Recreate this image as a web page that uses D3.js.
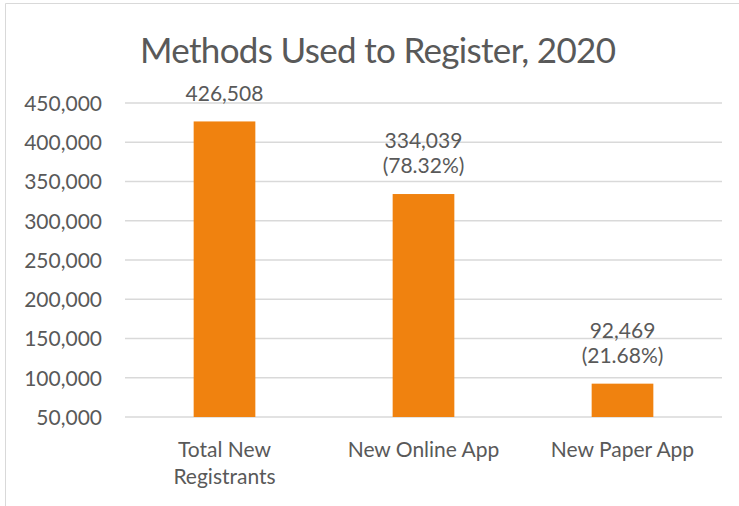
<!DOCTYPE html>
<html>
<head>
  <script src="https://d3js.org/d3.v7.min.js"></script>
  <style>
    body { margin: 0; background: #fff; }
    text { font-family: Lato, "Open Sans", sans-serif; fill: #595959; }
  </style>
</head>
<body>
<script type="text/javascript">

  var categories = [["Total New", "Registrants"], ["New Online App"], ["New Paper App"]];
  var values = [426508, 334039, 92469];
  var shares = [null, "78.32%", "21.68%"];
  var yTicks = [50000, 100000, 150000, 200000, 250000, 300000, 350000, 400000, 450000];

  var config = {
    canvas: {width: 739, height: 506},
    plot: {left: 125, right: 722, top: 103, bottom: 417},
    fontSize: 21
  };

  var svg = d3.select("body").append("svg")
    .attr("width", config.canvas.width)
    .attr("height", config.canvas.height);

  // chart frame (cropped at right and bottom)
  svg.append("path")
    .attr("d", "M5.5,506 L5.5,3.5 L739,3.5")
    .attr("fill", "none")
    .attr("stroke", "#d9d9d9")
    .attr("stroke-width", 1);

  svg.append("text")
    .attr("x", 378).attr("y", 63)
    .attr("text-anchor", "middle")
    .attr("textLength", 476)
    .attr("lengthAdjust", "spacing")
    .style("font-size", "35px")
    .text("Methods Used to Register, 2020");

  var x = d3.scaleBand()
    .domain(d3.range(categories.length))
    .range([config.plot.left, config.plot.right])
    .paddingInner(0.69)
    .paddingOuter(0.345);

  var y = d3.scaleLinear()
    .domain([50000, 450000])
    .range([config.plot.bottom, config.plot.top]);

  // gridlines
  svg.append("g")
    .selectAll("line")
    .data(yTicks)
    .enter().append("line")
    .attr("x1", config.plot.left)
    .attr("x2", config.plot.right)
    .attr("y1", function(d) { return y(d); })
    .attr("y2", function(d) { return y(d); })
    .attr("stroke", "#d9d9d9")
    .attr("stroke-width", 1.5);

  var yAxis = svg.append("g")
    .attr("transform", "translate(" + (config.plot.left - 23) + ",0)")
    .call(d3.axisLeft(y).tickValues(yTicks).tickSize(0).tickPadding(0).tickFormat(d3.format(",")));
  yAxis.select(".domain").remove();
  yAxis.selectAll("text")
    .style("font-size", config.fontSize + "px")
    .style("font-family", "Lato, sans-serif")
    .attr("fill", "#595959")
    .attr("dy", "0.35em");

  svg.append("g")
    .selectAll("rect")
    .data(values)
    .enter().append("rect")
    .attr("x", function(d, i) { return x(i); })
    .attr("width", x.bandwidth())
    .attr("y", function(d) { return y(d); })
    .attr("height", function(d) { return y(50000) - y(d); })
    .attr("fill", "#f0820f");

  // data labels
  var labels = svg.append("g")
    .selectAll("text")
    .data(values)
    .enter().append("text")
    .attr("text-anchor", "middle")
    .attr("x", function(d, i) { return x(i) + x.bandwidth() / 2; })
    .attr("y", function(d, i) { return y(d) - (shares[i] ? 46 : 20); })
    .style("font-size", config.fontSize + "px");
  labels.append("tspan")
    .text(function(d) { return d3.format(",")(d); });
  labels.append("tspan")
    .attr("x", function(d, i) { return x(i) + x.bandwidth() / 2; })
    .attr("dy", 25)
    .text(function(d, i) { return shares[i] ? "(" + shares[i] + ")" : ""; });

  // category labels
  var cats = svg.append("g")
    .selectAll("text")
    .data(categories)
    .enter().append("text")
    .attr("text-anchor", "middle")
    .attr("x", function(d, i) { return x(i) + x.bandwidth() / 2; })
    .attr("y", 457)
    .style("font-size", config.fontSize + "px");
  cats.selectAll("tspan")
    .data(function(d, i) { return d.map(function(t) { return {t: t, i: i}; }); })
    .enter().append("tspan")
    .attr("x", function(d) { return x(d.i) + x.bandwidth() / 2; })
    .attr("dy", function(d, j) { return j ? 27 : 0; })
    .text(function(d) { return d.t; });

</script>
</body>
</html>
